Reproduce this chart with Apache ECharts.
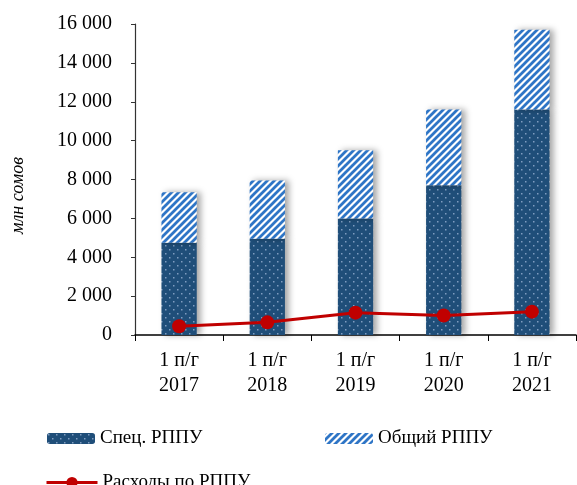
<!DOCTYPE html>
<html><head><meta charset="utf-8">
<script src="https://cdn.jsdelivr.net/npm/echarts@6/dist/echarts.min.js"></script>
<style>html,body{margin:0;padding:0;background:#fff}#c{width:577px;height:485px}</style>
</head><body><div id="c"></div>
<script>
const categories = ['1 п/г\n2017','1 п/г\n2018','1 п/г\n2019','1 п/г\n2020','1 п/г\n2021'];
const specValues = [4750, 4950, 6000, 7700, 11600];
const generalValues = [2600, 3000, 3500, 3900, 4100];
const expenseValues = [450, 650, 1150, 1000, 1200];
const seriesNames = ['Спец. РППУ', 'Общий РППУ', 'Расходы по РППУ'];
const yAxisName = 'млн сомов';

function dotPattern(){
  const c=document.createElement('canvas');c.width=8;c.height=8;
  const x=c.getContext('2d');
  x.fillStyle='#1F4E79';x.fillRect(0,0,8,8);
  x.fillStyle='#7F9CC0';x.fillRect(1,1,1.5,1.5);x.fillRect(5,5,1.5,1.5);
  return c;
}
function stripePattern(){
  const c=document.createElement('canvas');c.width=7;c.height=7;
  const x=c.getContext('2d');
  x.fillStyle='#ffffff';x.fillRect(0,0,7,7);
  x.strokeStyle='#2E75C6';x.lineWidth=2.8;
  x.beginPath();
  x.moveTo(-1,8);x.lineTo(8,-1);
  x.moveTo(-4.5,4.5);x.lineTo(4.5,-4.5);
  x.moveTo(2.5,11.5);x.lineTo(11.5,2.5);
  x.stroke();
  return c;
}
const dots={image:dotPattern(),repeat:'repeat'};
const stripes={image:stripePattern(),repeat:'repeat'};
const font='"Liberation Serif","Times New Roman",serif';
const chart=echarts.init(document.getElementById('c'));
const shadow={shadowColor:'rgba(0,0,0,0.35)',shadowBlur:6,shadowOffsetX:4,shadowOffsetY:0};
const legText={fontFamily:font,fontSize:19,color:'#000'};
chart.setOption({
  animation:false,
  textStyle:{fontFamily:font},
  grid:{left:135,right:1,top:24,bottom:150},
  legend:[
    {data:[seriesNames[0]],left:42,top:424,itemWidth:48,itemHeight:11,itemGap:5,textStyle:legText},
    {data:[seriesNames[1]],left:320,top:424,itemWidth:48,itemHeight:11,textStyle:legText},
    {data:[seriesNames[2]],left:40,top:468,itemWidth:51,itemHeight:14,textStyle:legText,
      lineStyle:{color:'#C00000',width:3,type:'solid',opacity:1},
      itemStyle:{color:'#C00000'}}
  ],
  xAxis:{type:'category',data:categories,
    axisLine:{lineStyle:{color:'#000',width:1.5}},
    axisTick:{show:true,length:6,lineStyle:{color:'#000'}},
    axisLabel:{color:'#000',fontFamily:font,fontSize:20,lineHeight:25,margin:13}},
  yAxis:{type:'value',min:0,max:16000,interval:2000,
    name:yAxisName,nameLocation:'middle',nameGap:108,nameRotate:90,
    nameTextStyle:{fontFamily:font,fontSize:18,fontStyle:'italic',color:'#000',padding:[0,32,0,0]},
    axisLine:{show:true,lineStyle:{color:'#333',width:1.2}},
    axisTick:{show:true,length:4,lineStyle:{color:'#333'}},
    splitLine:{show:false},
    axisLabel:{color:'#000',fontFamily:font,fontSize:20,margin:23,
      formatter:v=>String(v).replace(/\B(?=(\d{3})+(?!\d))/g,' ')}},
  series:[
    {name:seriesNames[0],type:'bar',stack:'a',data:specValues,barWidth:'40%',itemStyle:Object.assign({color:dots},shadow)},
    {name:seriesNames[1],type:'bar',stack:'a',data:generalValues,itemStyle:Object.assign({color:stripes},shadow)},
    {name:seriesNames[2],type:'line',data:expenseValues,symbol:'circle',symbolSize:14,
      lineStyle:{color:'#C00000',width:3},itemStyle:{color:'#C00000'},z:5}
  ]
});
</script></body></html>
